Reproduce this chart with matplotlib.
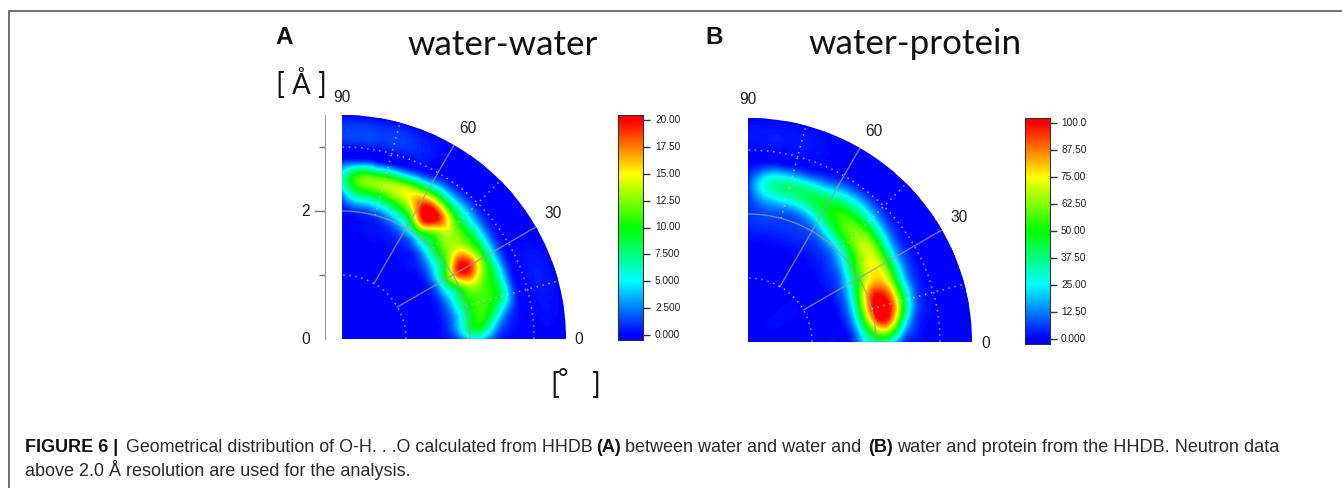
import numpy as np
import matplotlib
matplotlib.use("Agg")
import matplotlib.pyplot as plt
import matplotlib.tri as mtri
from matplotlib.colors import LinearSegmentedColormap, Normalize

# radial rows [A] and angle columns [deg] of the density tables
r_rows = [0.0, 1.2, 1.4, 1.6, 1.8, 2.0, 2.2, 2.4, 2.6, 2.8, 3.0, 3.5]
theta_cols = [0, 5, 10, 15, 20, 25, 30, 35, 40, 45, 50, 55, 60, 65, 70, 75, 80, 85, 90]

# water-water, one row per r_rows entry, one column per angle
water_water = [
    [0, 0, 0, 0, 0, 0, 0, 0, 0, 0, 0, 0, 0, 0, 0, 0, 0, 0, 0],
    [0, 0, 0, 0, 0, 0, 0, 0, 0, 0, 0, 0, 0, 0, 0, 0, 0, 0, 0],
    [0, 0, 0, 0, 0, 0, 0, 0, 0, 0, 0, 0, 0, 0, 0, 0, 0, 0, 0],
    [.2, .4, .5, .6, .6, .7, .7, .6, .5, .4, .3, .2, .2, .1, .1, .1, 0, 0, 0],
    [1, 3, 3, 3.5, 4, 5, 6, 5, 3.5, 2.5, 1.5, 1, .8, .6, .4, .3, .2, .1, 0],
    [4, 8, 8, 8.5, 9, 11, 15, 11, 9, 8, 7, 6, 4.5, 3, 2, 1.2, .8, .6, .2],
    [3.5, 9, 11, 11, 12, 16, 20.5, 17, 13, 12, 12.5, 17, 12, 8.5, 7, 6, 5.5, 5, 1.5],
    [1, 4, 8, 10.5, 11, 13, 16, 14, 12.5, 13.5, 18, 21.5, 18, 14, 13, 12, 11.5, 10, 5],
    [.1, .8, 3, 7, 7.5, 8, 8.5, 8.5, 8.5, 9, 11.5, 14, 13.5, 12.5, 11.5, 11, 10.5, 9, 4.5],
    [0, .1, .2, .8, 1, 1.5, 1.8, 2.2, 2.8, 3.5, 4, 4.5, 4, 2.8, 1.8, 1.3, 1, .6, .2],
    [0, 0, 0, 0, 0, 0, 0, 0, 0, 0, .1, .1, 0, 0, 0, 0, 0, 0, 0],
    [0, 0, 0, 0, 0, 0, 0, 0, 0, 0, 0, 0, 0, 0, 0, 0, 0, 0, 0],
]

# water-protein, same rows and columns
water_protein = [
    [0, 0, 0, 0, 0, 0, 0, 0, 0, 0, 0, 0, 0, 0, 0, 0, 0, 0, 0],
    [0, 0, 0, 0, 0, 0, 0, 0, 0, 0, 0, 0, 0, 0, 0, 0, 0, 0, 0],
    [0, 0, 0, 0, 0, 0, 0, 0, 0, 0, 0, 0, 0, 0, 0, 0, 0, 0, 0],
    [1, 3, 6, 7, 7, 6, 5, 4, 3, 2, 1.5, 1, 1, 1, 1, 1, 1, 1, 1],
    [20, 28, 38, 42, 38, 30, 22, 15, 10, 7, 5, 4, 4, 4, 4, 4, 4, 4, 3],
    [35, 60, 85, 92, 85, 68, 52, 44, 32, 22, 17, 13, 9, 7, 6, 6, 7, 6, 4],
    [28, 68, 100, 105, 98, 82, 74, 66, 58, 50, 44, 36, 26, 19, 16, 16, 16, 12, 4],
    [8, 30, 60, 75, 72, 68, 68, 68, 68, 62, 58, 52, 46, 41, 37, 36, 33, 24, 4],
    [1, 6, 15, 26, 27, 28, 31, 36, 42, 44, 44, 42, 37, 33, 31, 30, 28, 18, 2],
    [0, .5, 2, 3, 4, 5, 6, 8, 12, 16, 19, 18, 13, 8, 5, 4, 3, 1, 0],
    [0, 0, 0, 0, 0, 0, 0, 0, .5, 1, 1.5, 1, .5, 0, 0, 0, 0, 0, 0],
    [0, 0, 0, 0, 0, 0, 0, 0, 0, 0, 0, 0, 0, 0, 0, 0, 0, 0, 0],
]

ticks_a = [0, 2.5, 5, 7.5, 10, 12.5, 15, 17.5, 20]
labels_a = ["0.000", "2.500", "5.000", "7.500", "10.00", "12.50", "15.00", "17.50", "20.00"]
ticks_b = [0, 12.5, 25, 37.5, 50, 62.5, 75, 87.5, 100]
labels_b = ["0.000", "12.50", "25.00", "37.50", "50.00", "62.50", "75.00", "87.50", "100.0"]

caption_1 = "Geometrical distribution of O-H. . .O calculated from HHDB"
caption_2 = "between water and water and"
caption_3 = "water and protein from the HHDB. Neutron data"
caption_4 = "above 2.0 Å resolution are used for the analysis."

W, H = 1342, 488
RMAX = 3.5
cmap = LinearSegmentedColormap.from_list("rainbow5", ["#0000ff", "#00ffff", "#00ff00", "#ffff00", "#ff0000"])
plt.rcParams["font.family"] = "Liberation Sans"

fig = plt.figure(figsize=(W / 100, H / 100), dpi=100)


def px_box(x0, y0, x1, y1):
    return [x0 / W, 1 - y1 / H, (x1 - x0) / W, (y1 - y0) / H]


def put(x, y, s, **kw):
    kw.setdefault("va", "center")
    return fig.text(x / W, 1 - y / H, s, **kw)


def draw_panel(x0, y0, table, vmax, cb_box, cb_ticks, cb_labels, label_x):
    ax = fig.add_axes(px_box(x0, y0 - 224, x0 + 224, y0), projection="polar")
    ax.set_thetamin(0)
    ax.set_thetamax(90)
    ax.set_axis_off()

    # smooth the table with matplotlib's own cubic refiner
    tt, rr = np.meshgrid(np.radians(theta_cols), r_rows)
    tri = mtri.Triangulation(tt.ravel(), rr.ravel())
    refiner = mtri.UniformTriRefiner(tri)
    tri_fine, z_fine = refiner.refine_field(np.array(table, dtype=float).ravel(), subdiv=3)
    norm = Normalize(0, vmax)
    levels = np.linspace(0, vmax, 161)
    ax.tricontourf(tri_fine, z_fine, levels=levels, cmap=cmap, norm=norm, extend="both")

    # grid of the original plot
    arc = np.radians(np.arange(0, 90.5, 0.5))
    for a in [30, 60]:
        ax.plot(np.radians([a, a]), [1, RMAX], color="#9a9aa6", lw=1, alpha=0.75)
    for a in [15, 45, 75]:
        ax.plot(np.radians([a, a]), [2, RMAX], color="#c8cce8", lw=1.1, ls=(0, (1, 3)), alpha=0.8)
    ax.plot(arc, np.full(arc.size, 2.0), color="#9a9aa6", lw=1, alpha=0.75)
    for rad in [1, 3]:
        ax.plot(arc, np.full(arc.size, float(rad)), color="#c8cce8", lw=1.1, ls=(0, (1, 3)), alpha=0.8)
    ax.set_rlim(0, RMAX)

    # colour bar with some room past both ends of the scale
    cax = fig.add_axes(px_box(*cb_box))
    pad = vmax * 5 / 215
    grad = np.linspace(-pad, vmax + pad, 400)[:, None]
    cax.imshow(grad, origin="lower", extent=[0, 1, -pad, vmax + pad], aspect="auto", cmap=cmap, norm=norm)
    cax.set_xticks([])
    cax.yaxis.tick_right()
    cax.set_yticks(cb_ticks)
    cax.set_yticklabels([])
    cax.tick_params(axis="y", length=5, width=1, color="#333333")
    for sp in cax.spines.values():
        sp.set_color("#333333")
    scale = (cb_box[3] - cb_box[1]) / (vmax + 2 * pad)
    for t, s in zip(cb_ticks, cb_labels):
        put(label_x, cb_box[3] - (t + pad) * scale, s, fontsize=7.3, color="#222222")
    return ax


draw_panel(342, 339, water_water, 20, (618, 115, 643, 340), ticks_a, labels_a, 655)
draw_panel(748, 342, water_protein, 100, (1025, 118, 1050, 344), ticks_b, labels_b, 1061)

# radial axis of panel A
rax = fig.add_axes(px_box(325, 115, 326, 339))
rax.set_ylim(0, RMAX)
rax.set_xticks([])
rax.set_yticks([2], minor=False)
rax.set_yticks([1, 3], minor=True)
rax.set_yticklabels([])
rax.tick_params(axis="y", which="major", length=8, width=1, color="#777777")
rax.tick_params(axis="y", which="minor", length=4, width=1, color="#777777")
for name, sp in rax.spines.items():
    sp.set_visible(name == "left")
    sp.set_color("#999999")

# axis numbers
for x, y, s in [(342, 97, "90"), (468, 128, "60"), (553, 214, "30"), (579, 339, "0"),
                (306, 212, "2"), (306, 340, "0"),
                (748, 100, "90"), (874, 131, "60"), (959, 217, "30"), (986, 343, "0")]:
    put(x, y, s, fontsize=11.2, ha="center", color="#222222")

# panel letters and headings
put(275, 38, "A", fontsize=17.5, fontweight="bold", color="#111111")
put(705, 38, "B", fontsize=17.5, fontweight="bold", color="#111111")
put(407, 55, "water-water", fontsize=25.2, family="Lato", color="#111111", va="baseline")
put(808, 54, "water-protein", fontsize=25.2, family="Lato", color="#111111", va="baseline")
put(275, 86, "[", fontsize=21, family="Lato", color="#111111")
put(301, 85, "Å", fontsize=20, family="Lato", color="#111111", ha="center")
put(326, 86, "]", fontsize=21, family="Lato", color="#111111", ha="right")
put(550, 385, "[", fontsize=21, family="Lato", color="#111111")
put(563, 379, "°", fontsize=18, family="Lato", color="#111111", ha="center")
put(600, 385, "]", fontsize=21, family="Lato", color="#111111", ha="right")

# caption
y1, y2 = 447, 470.5
put(25, y1, "FIGURE 6 |", fontsize=13, fontweight="bold", color="#111111")
put(126, y1, caption_1, fontsize=12.85, color="#2a2a2a")
put(596, y1, "(A)", fontsize=13, fontweight="bold", color="#111111")
put(625, y1, caption_2, fontsize=13, color="#2a2a2a")
put(868, y1, "(B)", fontsize=13, fontweight="bold", color="#111111")
put(897, y1, caption_3, fontsize=13.1, color="#2a2a2a")
put(25, y2, caption_4, fontsize=13, color="#2a2a2a")

# page frame
fig.add_artist(plt.Line2D([9 / W, 9 / W, 1], [0, 1 - 11 / H, 1 - 11 / H], color="#707070", lw=1.4))

fig.savefig("out.png", dpi=100)
